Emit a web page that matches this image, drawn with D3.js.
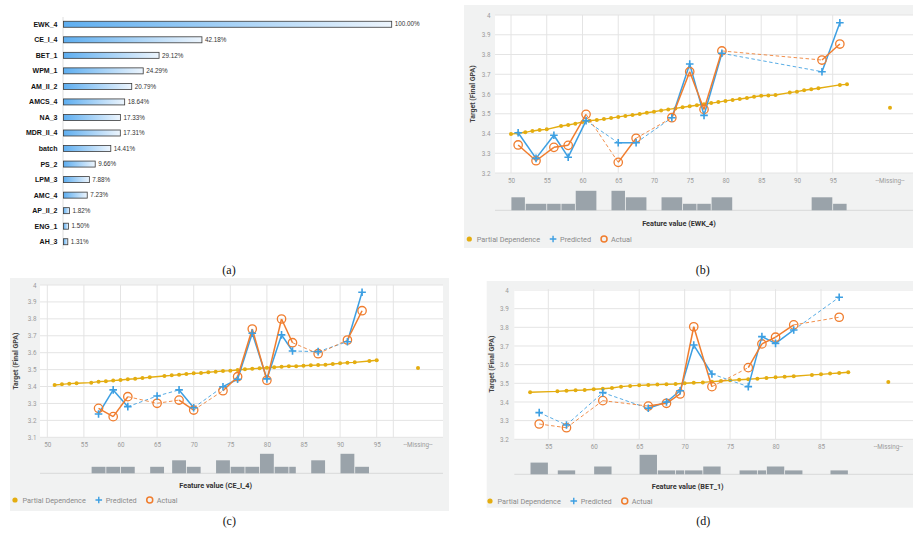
<!DOCTYPE html>
<html>
<head>
<meta charset="utf-8">
<script src="https://cdn.jsdelivr.net/npm/d3@7"></script>
<style>
  body { margin: 0; background: #ffffff; }
  svg { display: block; }
</style>
</head>
<body>
<svg id="fig" width="913" height="535"></svg>
<script>
// ---------- (a) feature importance ----------
const featureNames = ["EWK_4", "CE_I_4", "BET_1", "WPM_1", "AM_II_2", "AMCS_4", "NA_3", "MDR_II_4",
  "batch", "PS_2", "LPM_3", "AMC_4", "AP_II_2", "ENG_1", "AH_3"];
const importanceValues = [100.00, 42.18, 29.12, 24.29, 20.79, 18.64, 17.33, 17.31, 14.41, 9.66, 7.88, 7.23, 1.82, 1.50, 1.31];

// ---------- (b) EWK_4 ----------
const ewkBinStart = [50, 52, 55, 57, 59, 64, 66, 71, 74, 76, 78, 92, 95];
const ewkBinEnd   = [52, 55, 57, 59, 62, 66, 69, 74, 76, 78, 81, 95, 97];
const ewkBinCount = [2, 1, 1, 1, 3, 3, 2, 2, 1, 1, 2, 2, 1];
const ewkPredicted = [3.404, 3.274, 3.391, 3.280, 3.465, 3.353, 3.353, 3.480, 3.752, 3.492, 3.806, 3.713, 3.961];
const ewkActual    = [3.342, 3.262, 3.330, 3.340, 3.497, 3.254, 3.376, 3.480, 3.713, 3.522, 3.818, 3.772, 3.853];
const ewkPdX = [50, 51, 52, 53, 54, 55, 57, 58, 59, 60, 61, 62, 63, 64, 65, 66, 67, 68, 69, 70, 71, 72, 73, 74,
  75, 76, 77, 78, 79, 80, 81, 82, 83, 84, 85, 86, 87, 89, 90, 91, 92, 93, 96, 97];
const ewkPdY = [3.397, 3.401, 3.406, 3.413, 3.418, 3.421, 3.438, 3.443, 3.450, 3.458, 3.465, 3.468, 3.473, 3.478,
  3.484, 3.489, 3.494, 3.499, 3.505, 3.510, 3.517, 3.522, 3.527, 3.533, 3.538, 3.543, 3.548, 3.554, 3.559, 3.565,
  3.570, 3.575, 3.580, 3.586, 3.591, 3.593, 3.595, 3.607, 3.612, 3.619, 3.624, 3.629, 3.646, 3.649];
const ewkPdMissing = 3.53;

// ---------- (c) CE_I_4 ----------
const ceBinStart = [56, 58, 60, 64, 67, 69, 73, 75, 77, 79, 81, 83, 86, 90, 92];
const ceBinEnd   = [58, 60, 62, 66, 69, 71, 75, 77, 79, 81, 83, 84, 88, 92, 94];
const ceBinCount = [1, 1, 1, 1, 2, 1, 2, 1, 1, 3, 1, 1, 2, 3, 1];
const cePredicted = [3.238, 3.380, 3.281, 3.344, 3.380, 3.275, 3.399, 3.443, 3.715, 3.445, 3.705, 3.610, 3.606, 3.665, 3.957];
const ceActual    = [3.271, 3.222, 3.340, 3.301, 3.320, 3.261, 3.375, 3.458, 3.740, 3.437, 3.799, 3.659, 3.594, 3.675, 3.848];
const cePdX = [51, 52, 53, 54, 56, 57, 58, 59, 60, 61, 62, 63, 64, 66, 67, 68, 69, 70, 71, 72, 73, 74, 75, 76,
  77, 78, 79, 80, 81, 82, 83, 84, 85, 86, 87, 88, 89, 90, 91, 92, 94, 95];
const cePdY = [3.409, 3.413, 3.417, 3.419, 3.423, 3.429, 3.431, 3.435, 3.439, 3.443, 3.446, 3.450, 3.455, 3.462,
  3.466, 3.470, 3.474, 3.478, 3.480, 3.484, 3.488, 3.492, 3.494, 3.498, 3.502, 3.505, 3.508, 3.511, 3.514, 3.517,
  3.520, 3.520, 3.523, 3.526, 3.527, 3.529, 3.533, 3.537, 3.541, 3.543, 3.551, 3.555];
const cePdMissing = 3.51;

// ---------- (d) BET_1 ----------
const betBinStart = [53, 56, 60, 65, 67, 69, 70, 72, 76, 78, 79, 81, 86];
const betBinEnd   = [55, 58, 62, 67, 69, 70, 72, 74, 78, 79, 81, 83, 88];
const betBinCount = [3, 1, 2, 5, 1, 1, 1, 2, 1, 1, 2, 1, 1];
const betPredicted = [3.343, 3.277, 3.450, 3.366, 3.400, 3.460, 3.705, 3.550, 3.482, 3.750, 3.714, 3.786, 3.961];
const betActual    = [3.282, 3.262, 3.407, 3.378, 3.393, 3.443, 3.803, 3.482, 3.584, 3.711, 3.747, 3.813, 3.854];
const betPdX = [53, 56, 57, 58, 59, 60, 61, 62, 63, 64, 65, 66, 67, 68, 69, 70, 71, 72, 73, 74, 75, 76, 77, 78,
  79, 80, 81, 82, 84, 85, 86, 87, 88];
const betPdY = [3.452, 3.457, 3.460, 3.463, 3.464, 3.468, 3.471, 3.475, 3.482, 3.486, 3.489, 3.491, 3.493, 3.495,
  3.496, 3.500, 3.503, 3.505, 3.509, 3.512, 3.516, 3.519, 3.522, 3.525, 3.529, 3.532, 3.535, 3.538, 3.545, 3.548,
  3.552, 3.555, 3.559];
const betPdMissing = 3.507;

const legendLabels = ["Partial Dependence", "Predicted", "Actual"];
const yAxisTitle = "Target (Final GPA)";
const missingLabel = "--Missing--";

// ---------- drawing ----------
const svg = d3.select("#fig");
const SANS = "Roboto, 'Liberation Sans', Arial, sans-serif";
const SERIF = "'Liberation Serif', 'DejaVu Serif', serif";
const C = { pd: "#e4ad10", pred: "#3c9fe2", act: "#f07d2e", hist: "#9aa3aa", card: "#f1f2f2", grid: "#e4e4e4" };

// ----- panel (a): horizontal bars -----
(function drawImportance() {
  const g = svg.append("g");
  const defs = svg.append("defs");
  const grad = defs.append("linearGradient").attr("id", "barGrad")
    .attr("x1", "0%").attr("x2", "100%").attr("y1", "0%").attr("y2", "0%");
  grad.append("stop").attr("offset", "0%").attr("stop-color", "#5eaef0");
  grad.append("stop").attr("offset", "100%").attr("stop-color", "#edf5fd");

  const x = d3.scaleLinear().domain([0, 100]).range([63.5, 391.7]);
  const y = d3.scalePoint().domain(featureNames).range([16.5, 249.5]).padding(0.5);
  const barH = 6;

  g.append("line").attr("x1", 63).attr("x2", 63).attr("y1", 17).attr("y2", 249)
    .attr("stroke", "#d5d5d5").attr("stroke-width", 0.8);

  const rows = g.selectAll("g.row").data(featureNames).join("g").attr("class", "row");
  rows.append("rect")
    .attr("x", x(0)).attr("y", d => y(d) - barH / 2)
    .attr("width", (d, i) => x(importanceValues[i]) - x(0)).attr("height", barH)
    .attr("fill", "url(#barGrad)").attr("stroke", "#3a3a3a").attr("stroke-width", 0.8);
  rows.append("text")
    .attr("x", 57.5).attr("y", d => y(d)).attr("dy", "0.35em")
    .attr("text-anchor", "end").attr("font-family", "'Liberation Sans', Arial, sans-serif")
    .attr("font-weight", "bold").attr("font-size", 7).attr("fill", "#111")
    .text(d => d);
  rows.append("text")
    .attr("x", (d, i) => x(importanceValues[i]) + 3).attr("y", d => y(d)).attr("dy", "0.35em")
    .attr("font-family", "'Liberation Sans', Arial, sans-serif").attr("font-size", 6.3).attr("fill", "#333")
    .text((d, i) => importanceValues[i].toFixed(2) + "%");

  svg.append("text").attr("x", 229).attr("y", 274).attr("text-anchor", "middle")
    .attr("font-family", SERIF).attr("font-size", 12).attr("fill", "#111").text("(a)");
})();

// ----- partial dependence panels -----
function plusPath(s) { return `M${-s},0H${s}M0,${-s}V${s}`; }

function drawPanel(p) {
  const g = svg.append("g");
  g.append("rect").attr("x", p.card[0]).attr("y", p.card[1]).attr("width", p.card[2]).attr("height", p.card[3])
    .attr("fill", C.card);
  g.append("rect").attr("x", p.plot[0]).attr("y", p.plot[1]).attr("width", p.plot[2]).attr("height", p.plot[3])
    .attr("fill", "#ffffff");

  const x = d3.scaleLinear().domain(p.xDomain).range(p.xRange);
  const y = d3.scaleLinear().domain(p.yDomain).range(p.yRange);
  const xTicks = x.ticks(p.xTickCount);
  const yTicks = y.ticks(p.yTickCount);
  const plotL = p.plot[0], plotR = p.plot[0] + p.plot[2];
  const plotT = p.plot[1], plotB = p.plot[1] + p.plot[3];

  // grid
  g.append("g").selectAll("line").data(yTicks).join("line")
    .attr("x1", plotL).attr("x2", plotR).attr("y1", d => y(d)).attr("y2", d => y(d))
    .attr("stroke", C.grid).attr("stroke-width", 1);
  g.append("g").selectAll("line").data(xTicks).join("line")
    .attr("x1", d => x(d)).attr("x2", d => x(d)).attr("y1", plotT).attr("y2", plotB)
    .attr("stroke", C.grid).attr("stroke-width", 1);
  if (p.separator) {
    g.append("line").attr("x1", p.separator).attr("x2", p.separator).attr("y1", plotT).attr("y2", plotB)
      .attr("stroke", C.grid).attr("stroke-width", 1);
  }

  // y axis labels
  const yAxis = d3.axisLeft(y).tickValues(yTicks).tickSize(0).tickPadding(0)
    .tickFormat(d3.format(".1~f"));
  const ya = g.append("g").attr("transform", `translate(${p.yLabelX},0)`).call(yAxis);
  ya.select(".domain").remove();
  ya.selectAll("text").attr("font-family", SANS).attr("font-size", 6.3).attr("fill", "#9a9a9a");

  // x axis labels
  const xAxis = d3.axisBottom(x).tickValues(xTicks).tickSize(0).tickPadding(0).tickFormat(d3.format("d"));
  const xa = g.append("g").attr("transform", `translate(0,${p.xLabelY})`).call(xAxis);
  xa.select(".domain").remove();
  xa.selectAll("text").attr("font-family", SANS).attr("font-size", 6.3).attr("fill", "#9a9a9a").attr("dy", "0.35em");
  g.append("text").attr("x", p.missingX).attr("y", p.xLabelY).attr("dy", "0.35em").attr("text-anchor", "middle")
    .attr("font-family", SANS).attr("font-size", 6.3).attr("fill", "#9a9a9a").text(missingLabel);

  // y title
  g.append("text").attr("transform", `translate(${p.yTitleX},${(plotT + plotB) / 2}) rotate(-90)`)
    .attr("text-anchor", "middle").attr("dy", "0.35em")
    .attr("font-family", SANS).attr("font-weight", "bold").attr("font-size", 7).attr("fill", "#444")
    .text(yAxisTitle);

  // histogram
  const bins = p.binStart.map((s, i) => ({ s, e: p.binEnd[i], c: p.binCount[i] }));
  const h = d3.scaleLinear().domain([0, d3.max(p.binCount)]).range([0, 19.5]);
  g.append("line").attr("x1", plotL).attr("x2", plotR).attr("y1", p.histBase).attr("y2", p.histBase)
    .attr("stroke", "#d9d9d9").attr("stroke-width", 1);
  g.append("g").selectAll("rect").data(bins).join("rect")
    .attr("x", d => x(d.s) + 0.4).attr("width", d => x(d.e) - x(d.s) - 0.8)
    .attr("y", d => p.histBase - h(d.c)).attr("height", d => h(d.c))
    .attr("fill", C.hist);

  // feature title
  g.append("text").attr("x", p.featureX).attr("y", p.featureY).attr("dy", "0.35em").attr("text-anchor", "middle")
    .attr("font-family", SANS).attr("font-weight", "bold").attr("font-size", 7.3).attr("fill", "#333")
    .text(`Feature value (${p.feature})`);

  // partial dependence
  const pd = p.pdX.map((v, i) => [v, p.pdY[i]]);
  g.append("path").datum(pd)
    .attr("d", d3.line().x(d => x(d[0])).y(d => y(d[1])))
    .attr("fill", "none").attr("stroke", C.pd).attr("stroke-width", 1.4);
  g.append("g").selectAll("circle").data(pd).join("circle")
    .attr("cx", d => x(d[0])).attr("cy", d => y(d[1])).attr("r", 2).attr("fill", C.pd);
  g.append("circle").attr("cx", p.missingX).attr("cy", y(p.pdMissing)).attr("r", 2).attr("fill", C.pd);

  // predicted / actual lines: dashed where there is an empty stretch between bins
  const centers = bins.map(b => (b.s + b.e) / 2);
  const segs = d3.range(bins.length - 1).map(i => ({ i, gap: bins[i].e !== bins[i + 1].s }));
  function drawSeries(vals, color) {
    g.append("g").selectAll("line").data(segs).join("line")
      .attr("x1", d => x(centers[d.i])).attr("y1", d => y(vals[d.i]))
      .attr("x2", d => x(centers[d.i + 1])).attr("y2", d => y(vals[d.i + 1]))
      .attr("stroke", color)
      .attr("stroke-width", d => d.gap ? 1 : 1.5)
      .attr("stroke-dasharray", d => d.gap ? "3.5,2.5" : null)
      .attr("opacity", d => d.gap ? 0.85 : 1);
  }
  drawSeries(p.predicted, C.pred);
  drawSeries(p.actual, C.act);
  g.append("g").selectAll("circle").data(p.actual).join("circle")
    .attr("cx", (d, i) => x(centers[i])).attr("cy", d => y(d)).attr("r", 4.2)
    .attr("fill", "none").attr("stroke", C.act).attr("stroke-width", 1.3);
  g.append("g").selectAll("path").data(p.predicted).join("path")
    .attr("transform", (d, i) => `translate(${x(centers[i])},${y(d)})`)
    .attr("d", plusPath(3.8)).attr("stroke", C.pred).attr("stroke-width", 1.6).attr("fill", "none");

  // legend
  const lg = g.append("g").attr("transform", `translate(${p.legendX},${p.legendY})`);
  const txtStyle = sel => sel.attr("font-family", SANS).attr("font-size", 7.3).attr("fill", "#8a8a8a").attr("dy", "0.35em");
  let cx = 0;
  lg.append("circle").attr("cx", cx).attr("cy", 0).attr("r", 2.6).attr("fill", C.pd);
  const t1 = lg.append("text").attr("x", cx + 7.5).attr("y", 0).call(txtStyle).text(legendLabels[0]);
  cx += 7.5 + t1.node().getComputedTextLength() + 13;
  lg.append("path").attr("transform", `translate(${cx},0)`).attr("d", plusPath(3.3))
    .attr("stroke", C.pred).attr("stroke-width", 1.4);
  const t2 = lg.append("text").attr("x", cx + 7).attr("y", 0).call(txtStyle).text(legendLabels[1]);
  cx += 7 + t2.node().getComputedTextLength() + 13;
  lg.append("circle").attr("cx", cx).attr("cy", 0).attr("r", 3).attr("fill", "none")
    .attr("stroke", C.act).attr("stroke-width", 1.5);
  lg.append("text").attr("x", cx + 7).attr("y", 0).call(txtStyle).text(legendLabels[2]);

  // caption
  svg.append("text").attr("x", p.caption[0]).attr("y", p.caption[1]).attr("text-anchor", "middle")
    .attr("font-family", SERIF).attr("font-size", 12).attr("fill", "#111").text(p.captionText);
}

drawPanel({
  feature: "EWK_4", captionText: "(b)", caption: [702.7, 274],
  card: [464, 5, 449, 243], plot: [495, 15, 418, 158],
  xDomain: [50, 95], xRange: [511, 832.7], xTickCount: 10,
  yDomain: [3.2, 4], yRange: [173, 15], yTickCount: 8,
  yLabelX: 490.5, xLabelY: 180.5, yTitleX: 473, missingX: 890,
  histBase: 210.3, featureX: 679, featureY: 223.3, legendX: 469.3, legendY: 239,
  binStart: ewkBinStart, binEnd: ewkBinEnd, binCount: ewkBinCount,
  predicted: ewkPredicted, actual: ewkActual, pdX: ewkPdX, pdY: ewkPdY, pdMissing: ewkPdMissing
});

drawPanel({
  feature: "CE_I_4", captionText: "(c)", caption: [229.3, 525],
  card: [10, 278, 439, 233], plot: [40, 285, 403, 152.3],
  xDomain: [50, 95], xRange: [47.3, 376.7], xTickCount: 10,
  yDomain: [3.1, 4], yRange: [437.3, 285], yTickCount: 9,
  yLabelX: 36.5, xLabelY: 444.3, yTitleX: 16, missingX: 418, separator: 393.3,
  histBase: 473.3, featureX: 215.7, featureY: 485.7, legendX: 15, legendY: 500,
  binStart: ceBinStart, binEnd: ceBinEnd, binCount: ceBinCount,
  predicted: cePredicted, actual: ceActual, pdX: cePdX, pdY: cePdY, pdMissing: cePdMissing
});

drawPanel({
  feature: "BET_1", captionText: "(d)", caption: [703.3, 525],
  card: [486.7, 281, 426.3, 226.7], plot: [514.3, 289, 398.7, 150.3],
  xDomain: [55, 85], xRange: [548.3, 821], xTickCount: 7,
  yDomain: [3.2, 4], yRange: [439.3, 290], yTickCount: 8,
  yLabelX: 508.8, xLabelY: 446.7, yTitleX: 491.7, missingX: 888.3,
  histBase: 474.3, featureX: 687.7, featureY: 486, legendX: 490, legendY: 501,
  binStart: betBinStart, binEnd: betBinEnd, binCount: betBinCount,
  predicted: betPredicted, actual: betActual, pdX: betPdX, pdY: betPdY, pdMissing: betPdMissing
});
</script>
</body>
</html>
